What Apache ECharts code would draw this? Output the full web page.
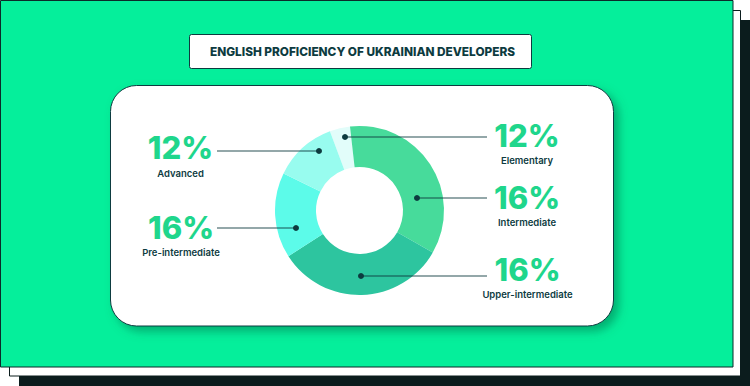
<!DOCTYPE html>
<html>
<head>
<meta charset="utf-8">
<script src="https://cdn.jsdelivr.net/npm/echarts@6/dist/echarts.min.js"></script>
<style>
html,body{margin:0;padding:0;background:#fff;}
#chart{width:750px;height:386px;}
</style>
</head>
<body>
<div id="chart"></div>
<script>
// ---- data ----
const titleText = 'ENGLISH PROFICIENCY OF UKRAINIAN DEVELOPERS';
const categories = ['Elementary', 'Intermediate', 'Upper-intermediate', 'Pre-intermediate', 'Advanced'];
const sliceValues = [3.9, 35.1, 32.6, 16.3, 12.1];          // slice sizes as drawn
const shownPercents = ['12%', '16%', '16%', '16%', '12%'];  // percentages printed on the labels

// ---- styles / layout ----
const sliceColors = ['#e2fdfa', '#47db9b', '#2dc59f', '#5cfbe9', '#98fcef'];
const dark = '#0d3b3f';
const green = '#05ef9b';
const pctColor = '#1fd68c';
const fontFam = 'Inter, "Noto Sans", sans-serif';
// annotation placement per category (same order as categories)
const annoLayout = [
  { side: 'right', lineY: 137, dotX: 345, textX: 527, pctY: 135, nameY: 160 },
  { side: 'right', lineY: 198, dotX: 417, textX: 527, pctY: 197, nameY: 222 },
  { side: 'right', lineY: 276, dotX: 361, textX: 527.5, pctY: 269, nameY: 294 },
  { side: 'left',  lineY: 228, dotX: 296, textX: 181, pctY: 227, nameY: 252.5 },
  { side: 'left',  lineY: 151, dotX: 319, textX: 180.5, pctY: 147, nameY: 173.5 }
];
const rightLineEnd = 487, leftLineStart = 217;

const chart = echarts.init(document.getElementById('chart'), null, { renderer: 'svg' });

const graphics = [
  // stacked card layers
  { type: 'rect', z: 0, shape: { x: 19.5, y: 20.5, width: 732, height: 367 }, style: { fill: '#0b1c1d', stroke: '#0b1c1d', lineWidth: 1 } },
  { type: 'rect', z: 1, shape: { x: 9.5, y: 10.5, width: 731, height: 365.5 }, style: { fill: '#ffffff', stroke: '#0b1c1d', lineWidth: 1 } },
  { type: 'rect', z: 2, shape: { x: 0.5, y: 0.5, width: 732.5, height: 366.5 }, style: { fill: green, stroke: '#0b2a2a', lineWidth: 1 } },
  // title box
  { type: 'rect', z: 3, shape: { x: 189.5, y: 34.5, width: 342, height: 34, r: 2 }, style: { fill: '#ffffff', stroke: dark, lineWidth: 1 } },
  { type: 'text', z: 4, x: 362.5, y: 52, style: { text: titleText, fill: dark, fontSize: 11.8, fontWeight: 800, fontFamily: fontFam, align: 'center', verticalAlign: 'middle' } },
  // inner panel
  { type: 'rect', z: 3, shape: { x: 110.5, y: 85.5, width: 503, height: 240.5, r: 26 },
    style: { fill: '#ffffff', stroke: dark, lineWidth: 1, shadowBlur: 10, shadowOffsetX: 5, shadowOffsetY: 5, shadowColor: 'rgba(0,110,70,0.5)' } }
];

categories.forEach((name, i) => {
  const L = annoLayout[i];
  const x1 = L.side === 'right' ? L.dotX : leftLineStart;
  const x2 = L.side === 'right' ? rightLineEnd : L.dotX;
  graphics.push({ type: 'line', z: 20, shape: { x1: x1, y1: L.lineY, x2: x2, y2: L.lineY }, style: { stroke: 'rgba(13,59,63,0.6)', lineWidth: 1.5 } });
  graphics.push({ type: 'circle', z: 21, shape: { cx: L.dotX, cy: L.lineY, r: 3 }, style: { fill: dark } });
  graphics.push({ type: 'text', z: 21, x: L.textX, y: L.pctY, style: { text: shownPercents[i], fill: pctColor, fontSize: 31, fontWeight: 800, fontFamily: fontFam, align: 'center', verticalAlign: 'middle' } });
  graphics.push({ type: 'text', z: 21, x: L.textX, y: L.nameY, style: { text: name, fill: dark, fontSize: 9.5, fontWeight: 600, fontFamily: fontFam, align: 'center', verticalAlign: 'middle' } });
});

chart.setOption({
  animation: false,
  backgroundColor: '#ffffff',
  graphic: { elements: graphics },
  series: [{
    type: 'pie',
    z: 10,
    center: [359.5, 210.5],
    radius: [43.5, 84.5],
    startAngle: 110.5,
    clockwise: true,
    label: { show: false },
    labelLine: { show: false },
    emphasis: { disabled: true },
    data: categories.map((c, i) => ({ name: c, value: sliceValues[i], itemStyle: { color: sliceColors[i] } }))
  }]
});
</script>
</body>
</html>
